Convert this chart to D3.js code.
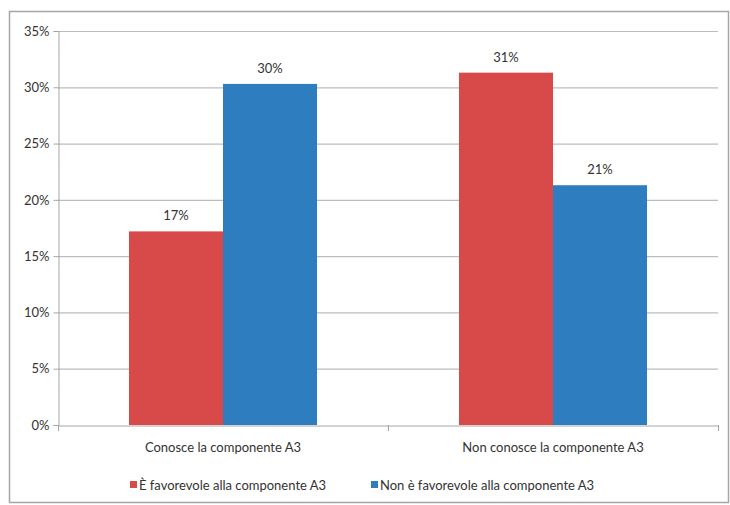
<!DOCTYPE html>
<html>
<head>
<meta charset="utf-8">
<script src="https://cdn.jsdelivr.net/npm/d3@7"></script>
<style>
  body { margin: 0; background: #fff; overflow: hidden; }
  text { font-family: Lato, "Open Sans", sans-serif; fill: #333; }
</style>
</head>
<body>
<div id="chart"></div>
<script>
const categories = ["Conosce la componente A3", "Non conosce la componente A3"];
const seriesNames = ["È favorevole alla componente A3", "Non è favorevole alla componente A3"];
const favorevole = [17.2, 31.3];
const nonFavorevole = [30.3, 21.3];
const yTicks = [0, 5, 10, 15, 20, 25, 30, 35];
const colors = ["#d84a4a", "#2e7dbf"];

const width = 730;
const height = 505;
const margin = { top: 31, right: 12, bottom: 80, left: 58 };

const svg = d3.select("#chart")
    .append("svg")
    .attr("width", width)
    .attr("height", height);

// cornice esterna
svg.append("rect")
    .attr("x", 9.5)
    .attr("y", 11.5)
    .attr("width", 719)
    .attr("height", 491)
    .attr("fill", "none")
    .attr("stroke", "#a6a6a6")
    .attr("stroke-width", 1.5);

const x0 = d3.scaleBand()
    .domain(categories)
    .range([margin.left, width - margin.right])
    .paddingInner(0)
    .paddingOuter(0);

const x1 = d3.scaleBand()
    .domain([0, 1])
    .range([0, x0.bandwidth()])
    .paddingInner(0)
    .paddingOuter(0.755);

const y = d3.scaleLinear()
    .domain([0, 35])
    .range([height - margin.bottom - 0, margin.top]);

// griglia
svg.append("g")
    .selectAll("line")
    .data(yTicks.filter(d => d > 0))
    .enter()
    .append("line")
    .attr("x1", margin.left)
    .attr("x2", width - margin.right)
    .attr("y1", d => y(d) + 0.5)
    .attr("y2", d => y(d) + 0.5)
    .attr("stroke", "#bcbcbc")
    .attr("stroke-width", 1.2);

const yAxis = svg.append("g")
    .attr("transform", `translate(${margin.left + 0.5},0)`)
    .call(d3.axisLeft(y).tickValues(yTicks).tickFormat(d => d + "%").tickSize(5).tickPadding(4));
yAxis.select(".domain").attr("stroke", "#a6a6a6");
yAxis.selectAll(".tick line").attr("stroke", "#a6a6a6");
yAxis.selectAll("text").style("font-size", "13px").attr("fill", "#333");

const data = categories.map((c, i) => ({ cat: c, values: [favorevole[i], nonFavorevole[i]] }));

const groups = svg.selectAll(".grp")
    .data(data)
    .enter()
    .append("g")
    .attr("class", "grp")
    .attr("transform", d => `translate(${x0(d.cat)},0)`);

groups.selectAll("rect")
    .data(d => d.values.map((v, k) => ({ k, v })))
    .enter()
    .append("rect")
    .attr("x", d => x1(d.k))
    .attr("width", x1.bandwidth())
    .attr("y", d => y(d.v))
    .attr("height", d => y(0) - y(d.v))
    .attr("fill", d => colors[d.k]);

groups.selectAll(".lbl")
    .data(d => d.values.map((v, k) => ({ k, v })))
    .enter()
    .append("text")
    .attr("class", "lbl")
    .attr("x", d => x1(d.k) + x1.bandwidth() / 2)
    .attr("y", d => y(d.v) - 11)
    .attr("text-anchor", "middle")
    .style("font-size", "13px")
    .text(d => Math.round(d.v) + "%");

// asse x
const xAxis = svg.append("g")
    .attr("transform", `translate(0,${y(0) + 0.5})`)
    .call(d3.axisBottom(x0).tickSize(0).tickPadding(17));
xAxis.select(".domain").attr("stroke", "#a6a6a6");
xAxis.selectAll("text").style("font-size", "13px").attr("fill", "#333");

svg.append("g")
    .selectAll("line")
    .data([margin.left, x0(categories[1]), width - margin.right])
    .enter()
    .append("line")
    .attr("x1", d => d + 0.5)
    .attr("x2", d => d + 0.5)
    .attr("y1", y(0))
    .attr("y2", y(0) + 6)
    .attr("stroke", "#a6a6a6");

// legenda
const legendX = [130, 371];
const legend = svg.selectAll(".leg")
    .data(seriesNames)
    .enter()
    .append("g")
    .attr("class", "leg")
    .attr("transform", (d, i) => `translate(${legendX[i]},490)`);

legend.append("rect")
    .attr("x", 0)
    .attr("y", -9)
    .attr("width", 7)
    .attr("height", 7)
    .attr("fill", (d, i) => colors[i]);

legend.append("text")
    .attr("x", 9)
    .attr("y", 0)
    .style("font-size", "13px")
    .text(d => d);
</script>
</body>
</html>
